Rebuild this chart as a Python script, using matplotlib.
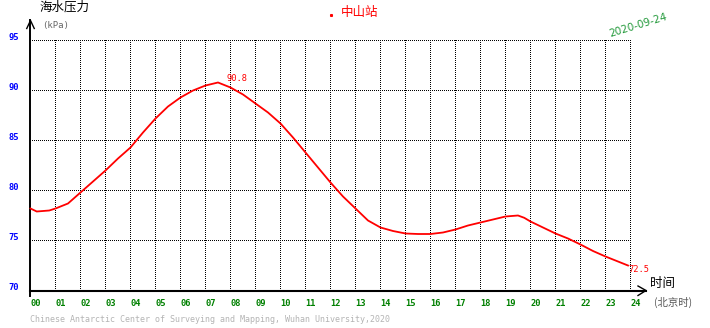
import matplotlib
matplotlib.use("Agg")
import matplotlib.pyplot as plt
from matplotlib.lines import Line2D

# Sea-water pressure at Zhongshan station over one day (kPa)
hours = [0, 0.25, 0.5, 0.75, 1, 1.5, 2, 2.5, 3, 3.5, 4, 4.5, 5, 5.5, 6, 6.5,
         7, 7.5, 8, 8.5, 9, 9.5, 10, 10.5, 11, 11.5, 12, 12.5, 13, 13.5, 14,
         14.5, 15, 15.5, 16, 16.5, 17, 17.5, 18, 18.5, 19, 19.5, 19.75, 20,
         20.5, 21, 21.5, 22, 22.5, 23, 23.5, 23.9]
pressure = [78.2, 77.9, 77.95, 78.0, 78.2, 78.7, 79.8, 80.9, 82.0, 83.2, 84.3,
            85.8, 87.2, 88.4, 89.3, 90.0, 90.5, 90.8, 90.3, 89.6, 88.7, 87.8,
            86.7, 85.3, 83.8, 82.3, 80.8, 79.4, 78.2, 77.0, 76.3, 75.95, 75.7,
            75.65, 75.65, 75.8, 76.1, 76.5, 76.8, 77.1, 77.4, 77.5, 77.27,
            76.9, 76.3, 75.7, 75.2, 74.6, 73.95, 73.4, 72.9, 72.5]

hour_ticks = list(range(25))
hour_labels = [f"{h:02d}" for h in hour_ticks]
levels = [70, 75, 80, 85, 90, 95]
level_labels = [str(v) for v in levels]

station = "中山站"
date_text = "2020-09-24"
y_title = "海水压力"
y_unit = "(kPa)"
x_title = "时间"
x_unit = "(北京时)"
credit = "Chinese Antarctic Center of Surveying and Mapping, Wuhan University,2020"

W, H = 710, 328
fig = plt.figure(figsize=(W / 100, H / 100), dpi=100)

# axes box (pixels from bottom-left): x 20..640, y 32..298
# scale: 25 px per hour, 10 px per kPa; grid lines fall on pixel centres
ax = fig.add_axes([20 / W, 32 / H, 620 / W, 266 / H])
ax.set_xlim((20 - 30.5) / 25, (640 - 30.5) / 25)
ax.set_ylim(70 + (32 - 37.5) / 10, 70 + (298 - 37.5) / 10)
for s in ax.spines.values():
    s.set_visible(False)
ax.patch.set_alpha(0)

mono = "DejaVu Sans Mono"
cjk = ["Noto Sans CJK SC", "DejaVu Sans"]

# dotted grid: 1px dots with 1px gaps, starting on whole pixels
dot = (0, (1, 1))
grid_kw = dict(colors="black", linestyles=dot, linewidth=0.72)
vl = ax.vlines(hour_ticks[1:], levels[0] - 0.05, levels[-1] + 0.05, **grid_kw)
hl = ax.hlines(levels[1:], hour_ticks[0] - 0.02, hour_ticks[-1] + 0.02, **grid_kw)
for c in (vl, hl):
    c.set_snap(False)

# axis lines with open arrowheads
ax.plot([0, 0], [69.5, 97], color="black", lw=1.4, clip_on=False)
ax.plot([-0.15, 0, 0.15], [96.2, 97, 96.2], color="black", lw=1.0, clip_on=False)
ax.plot([0, 24.62], [70, 70], color="black", lw=1.5, clip_on=False)
ax.plot([24.3, 24.62, 24.3], [70.45, 70, 69.5], color="black", lw=1.0, clip_on=False)

# ticks
ax.set_xticks(hour_ticks, hour_labels)
ax.set_yticks(levels, level_labels)
ax.tick_params(axis="x", length=0, pad=2.2, labelsize=6.3, labelcolor="#008000")
ax.tick_params(axis="y", length=0, pad=0.8, labelsize=6.3, labelcolor="#0000ff")
for t in ax.get_xticklabels():
    t.set_fontfamily(mono)
    t.set_fontweight("bold")
    t.set_horizontalalignment("left")
for t in ax.get_yticklabels():
    t.set_fontfamily(mono)
    t.set_fontweight("bold")
    t.set_verticalalignment("baseline")

# pressure curve
ax.plot(hours, pressure, color="#ff0000", lw=1.3, solid_joinstyle="miter")

i_max = pressure.index(max(pressure))
ax.text(hours[i_max] + 0.36, pressure[i_max] + 0.4, f"{pressure[i_max]:.1f}",
        color="#ff0000", fontsize=6.3, family=mono, ha="left", va="center")
ax.text(hours[-1], pressure[-1] - 0.4, f"{pressure[-1]:.1f}",
        color="#ff0000", fontsize=6.3, family=mono, ha="left", va="center",
        clip_on=False)

# titles and annotations
fig.text(40 / W, 1 - 7.5 / H, y_title, family=cjk, fontsize=9, color="black",
         ha="left", va="center")
fig.text(42 / W, 1 - 25.5 / H, y_unit, family=mono, fontsize=6.5, color="#666666",
         ha="left", va="center")
fig.text(360 / W, 1 - 12.5 / H, station, family=cjk, fontsize=9, color="#ff0000",
         ha="center", va="center")
fig.add_artist(Line2D([330.7 / W], [1 - 15 / H], marker="s", markersize=1.2,
                      color="#ff0000", transform=fig.transFigure))
fig.text(638 / W, 1 - 25 / H, date_text, fontsize=7.5, color="#22993a",
         rotation=17, rotation_mode="anchor", ha="center", va="center")
fig.text(650 / W, 1 - 283 / H, x_title, family=cjk, fontsize=9, color="black",
         ha="left", va="center")
fig.text(654 / W, 1 - 302 / H, x_unit, family=cjk, fontsize=7.5, color="#555555",
         ha="left", va="center")
fig.text(30 / W, 1 - 320 / H, credit, family=mono, fontsize=6, color="#b4b4b4",
         ha="left", va="center")

fig.savefig("out.png", dpi=100)
